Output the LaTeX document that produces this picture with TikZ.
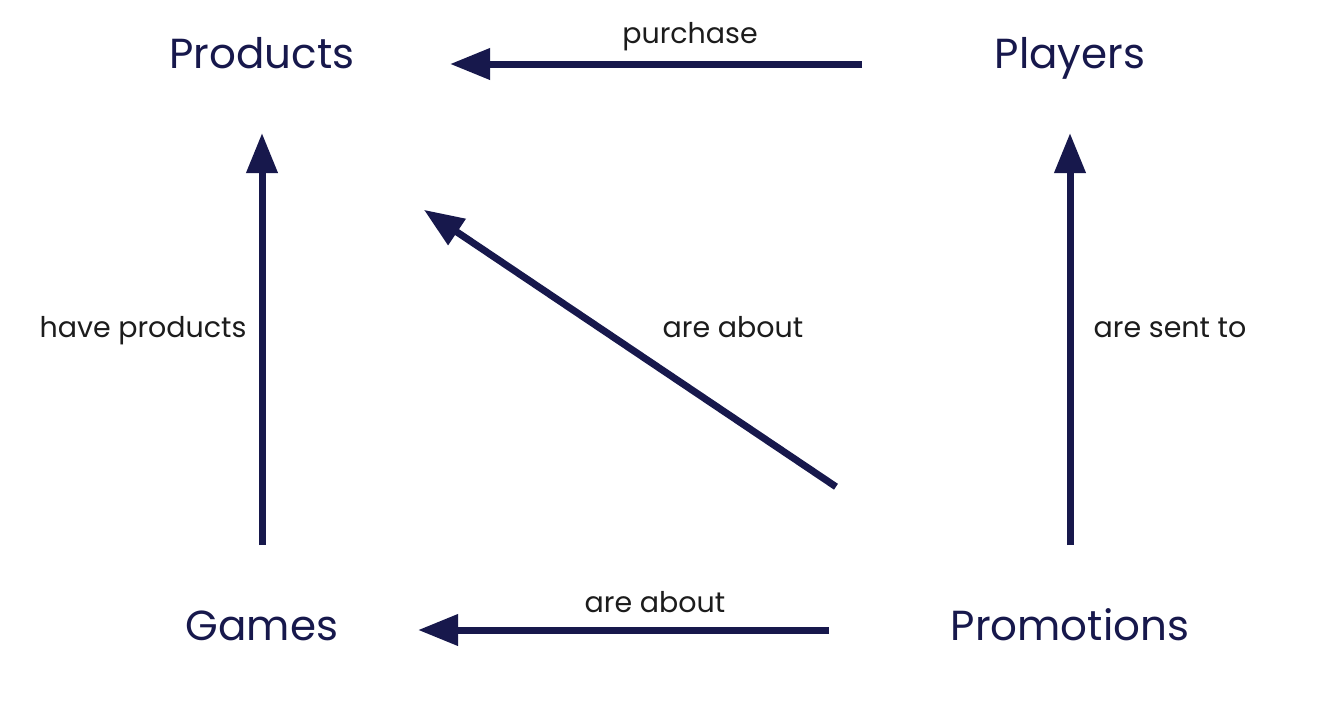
\documentclass[tikz,border=0pt]{standalone}
\usepackage{fontspec}
\setmainfont{Poppins}
\usetikzlibrary{arrows.meta}

\definecolor{navy}{HTML}{17184C}
\definecolor{labelink}{HTML}{1C1C1C}

\begin{document}
\begin{tikzpicture}[x=1pt,y=-1pt,
  entity/.style={anchor=base,inner sep=0pt,text=navy,font=\fontsize{42}{48}\selectfont},
  rel/.style={anchor=base,inner sep=0pt,text=labelink,font=\fontsize{28.5}{34}\selectfont},
  link/.style={draw=navy,line width=7pt,-{Triangle[length=40pt,width=30pt]}}]
\path[use as bounding box,fill=white] (0,0) rectangle (1320,702);
\node[entity] (products) at (262,68) {Products};
\node[entity] (players) at (1070,68) {Players};
\node[entity] (games) at (262,640) {Games};
\node[entity] (promotions) at (1070,640) {Promotions};
\node[rel] (purchase) at (690,43) {purchase};
\node[rel] (haveprod) at (143,337) {have products};
\node[rel] (aboutprod) at (733,337) {are about};
\node[rel] (sentto) at (1170,337) {are sent to};
\node[rel] (aboutgame) at (655,612) {are about};
\draw[link,shorten <=208pt,shorten >=188pt] ([yshift=4pt]players.base) -- ([yshift=4pt]products.base);
\draw[link,shorten <=95pt,shorten >=65pt] (games.base) -- (products.base);
\draw[link,shorten <=95pt,shorten >=65pt] (promotions.base) -- (players.base);
\draw[link,shorten <=282pt,shorten >=195pt] ([yshift=-4pt]promotions.base) -- ([yshift=-33pt]products.base);
\draw[link,shorten <=241pt,shorten >=156pt] ([yshift=10pt]promotions.base) -- ([yshift=10pt]games.base);
\end{tikzpicture}
\end{document}
